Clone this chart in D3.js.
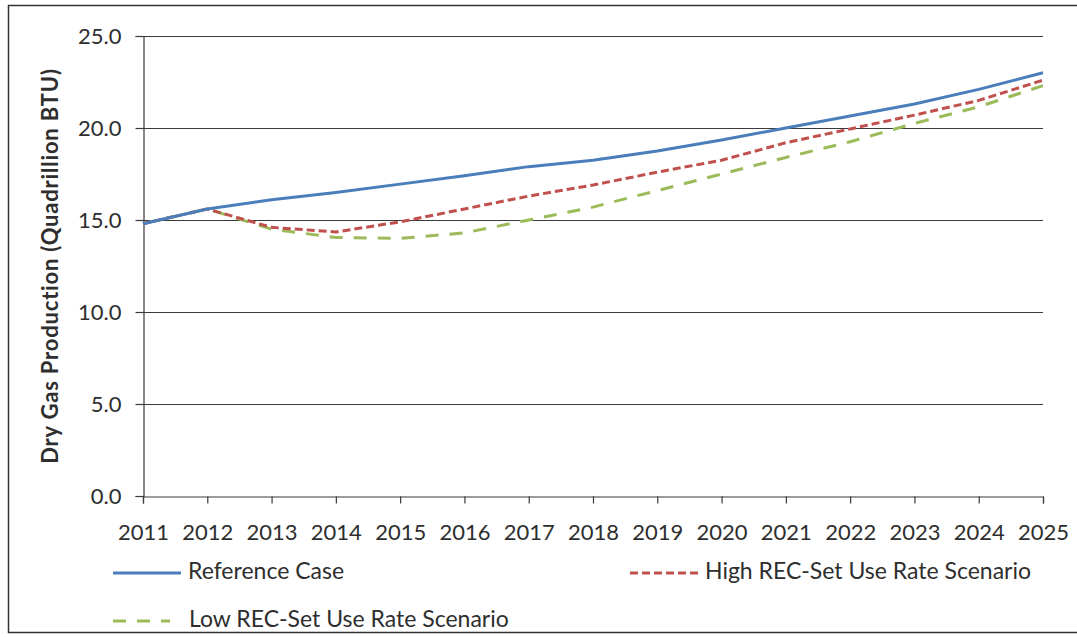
<!DOCTYPE html>
<head>
<meta charset="utf-8">
<title>Dry Gas Production</title>
<script src="https://d3js.org/d3.v7.min.js"></script>
<style>
  body { margin: 0; background: #fff; }
  text { font-family: Lato, "Open Sans", sans-serif; fill: #2e2e2e; }
</style>
</head>
<body>
<div id="chart"></div>
<script>
// ---------- data ----------
const years = [2011, 2012, 2013, 2014, 2015, 2016, 2017, 2018, 2019, 2020, 2021, 2022, 2023, 2024, 2025];
const referenceCase = [14.8, 15.6, 16.1, 16.5, 16.95, 17.4, 17.9, 18.25, 18.75, 19.35, 20.0, 20.65, 21.3, 22.1, 23.0];
const highScenario  = [14.8, 15.6, 14.6, 14.35, 14.9, 15.6, 16.3, 16.9, 17.6, 18.25, 19.2, 19.95, 20.7, 21.5, 22.6];
const lowScenario   = [14.8, 15.6, 14.5, 14.05, 14.0, 14.3, 15.0, 15.7, 16.6, 17.5, 18.4, 19.25, 20.25, 21.15, 22.3];
const yTicks = [0, 5, 10, 15, 20, 25];

const series = [
  {name: "Reference Case", values: referenceCase, color: "#4a7ebb", dash: null},
  {name: "High REC-Set Use Rate Scenario", values: highScenario, color: "#c0504d", dash: "8,4"},
  {name: "Low REC-Set Use Rate Scenario", values: lowScenario, color: "#9bbb59", dash: "13,11"}
];

// ---------- svg ----------
const W = 1077, H = 637;
const plot = {left: 143, right: 1043, top: 36, bottom: 496};

const svg = d3.select("#chart").append("svg")
    .attr("width", W)
    .attr("height", H);

// outer frame
svg.append("rect")
    .attr("x", 8.5).attr("y", 5.5)
    .attr("width", W).attr("height", 627)
    .attr("fill", "none")
    .attr("stroke", "#333")
    .attr("stroke-width", 1.5);

// ---------- scales ----------
const x = d3.scaleLinear().domain([2011, 2025]).range([plot.left, plot.right]);
const y = d3.scaleLinear().domain([0, 25]).range([plot.bottom, plot.top]);

// gridlines
svg.append("g")
  .selectAll("line")
  .data(yTicks.filter(d => d > 0))
  .join("line")
    .attr("x1", plot.left).attr("x2", plot.right)
    .attr("y1", d => y(d) + 0.5).attr("y2", d => y(d) + 0.5)
    .attr("stroke", "#3a3a3a")
    .attr("stroke-width", 1.2);

// ---------- axes ----------
const yAxis = d3.axisLeft(y)
    .tickValues(yTicks)
    .tickFormat(d3.format(".1f"))
    .tickSize(8)
    .tickPadding(14);

const xAxis = d3.axisBottom(x)
    .tickValues(years)
    .tickFormat(d3.format("d"))
    .tickSize(7)
    .tickPadding(19);

const gy = svg.append("g")
    .attr("transform", "translate(" + (plot.left + 0.5) + ",0)")
    .call(yAxis);

const gx = svg.append("g")
    .attr("transform", "translate(0," + (plot.bottom + 0.5) + ")")
    .call(xAxis);

[gx, gy].forEach(g => {
  g.select(".domain").attr("stroke", "#3a3a3a").attr("stroke-width", 1.2);
  g.selectAll(".tick line").attr("stroke", "#3a3a3a").attr("stroke-width", 1.2);
  g.selectAll(".tick text")
    .style("font-family", "Lato, 'Open Sans', sans-serif")
    .style("font-size", "22px")
    .attr("fill", "#2e2e2e");
});
gx.selectAll(".tick text").attr("dy", "0.8em");

// y-axis title
svg.append("text")
    .attr("transform", "translate(52," + ((plot.top + plot.bottom) / 2) + ") rotate(-90)")
    .attr("text-anchor", "middle")
    .attr("dominant-baseline", "middle")
    .style("font-size", "22px")
    .style("font-weight", "bold")
    .style("letter-spacing", "0.8px")
    .text("Dry Gas Production (Quadrillion BTU)");

// ---------- lines ----------
const line = d3.line()
    .x((d, i) => x(years[i]))
    .y(d => y(d));

// draw low, high, then reference on top
[series[2], series[1], series[0]].forEach(s => {
  svg.append("path")
      .attr("d", line(s.values))
      .attr("fill", "none")
      .attr("stroke", s.color)
      .attr("stroke-width", 3)
      .attr("stroke-dasharray", s.dash)
      .attr("stroke-linejoin", "round");
});

// ---------- legend ----------
const legendPos = [
  {x1: 113, x2: 181, y: 573},
  {x1: 630, x2: 698, y: 573},
  {x1: 113, x2: 170, y: 621}
];
series.forEach((s, i) => {
  const p = legendPos[i];
  const g = svg.append("g");
  g.append("line")
      .attr("x1", p.x1).attr("x2", p.x2)
      .attr("y1", p.y).attr("y2", p.y)
      .attr("stroke", s.color)
      .attr("stroke-width", 3)
      .attr("stroke-dasharray", s.dash);
  g.append("text")
      .attr("x", i === 2 ? 189 : p.x2 + 7)
      .attr("y", p.y)
      .attr("dominant-baseline", "middle")
      .style("font-size", "23px")
      .text(s.name);
});
</script>
</body>
